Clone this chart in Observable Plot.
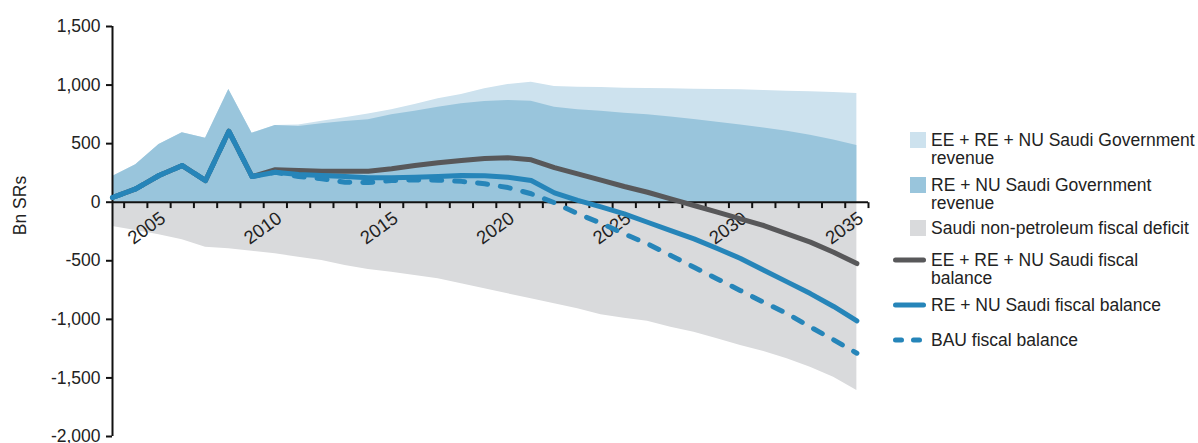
<!DOCTYPE html>
<html><head><meta charset="utf-8">
<script src="https://cdn.jsdelivr.net/npm/d3@7"></script>
<script src="https://cdn.jsdelivr.net/npm/@observablehq/plot@0.6"></script>
<style>
body{margin:0;background:#fff;}
#wrap{position:relative;width:1198px;height:443px;font-family:"Liberation Sans",Arial,sans-serif;color:#222;}
.item{position:absolute;left:890px;font-size:17.5px;line-height:18px;white-space:pre;}
.item svg{position:absolute;left:0;top:0;overflow:visible}
.item span{position:absolute;left:41px;top:0;}
</style></head><body><div id="wrap"></div>
<script>
const years = [2003,2004,2005,2006,2007,2008,2009,2010,2011,2012,2013,2014,2015,2016,2017,2018,2019,2020,2021,2022,2023,2024,2025,2026,2027,2028,2029,2030,2031,2032,2033,2034,2035];
const eeRevenue = [219,319,492,592,547,962,589,655,660,692,720,752,789,834,883,919,968,1005,1024,988,982,979,973,971,968,965,962,960,954,948,942,937,928];
const reRevenue = [219,319,492,592,547,962,589,655,646,669,689,703,746,777,811,840,860,868,862,811,789,777,760,746,728,706,682,660,634,606,572,532,484];
const nonPetroDeficit = [-207,-242,-278,-321,-384,-398,-418,-441,-469,-498,-540,-575,-597,-626,-654,-697,-739,-782,-825,-867,-910,-960,-990,-1016,-1067,-1110,-1166,-1223,-1275,-1337,-1409,-1494,-1607];
const eeBalance = [40,114,228,313,185,606,219,277,271,265,265,265,285,313,336,356,373,379,362,296,242,188,134,85,29,-28,-85,-142,-199,-270,-341,-427,-524];
const reBalance = [40,114,228,313,185,606,219,256,236,228,219,208,208,213,219,228,225,213,185,80,15,-40,-99,-171,-242,-313,-395,-480,-580,-680,-780,-890,-1013];
const bauBalance = [40,114,228,313,185,606,219,256,219,200,171,168,185,191,188,178,157,125,72,-5,-98,-179,-270,-355,-455,-555,-655,-755,-855,-950,-1065,-1175,-1289];
const yTicks = [-2000,-1500,-1000,-500,0,500,1000,1500];
const xLabelYears = [2005,2010,2015,2020,2025,2030,2035];
const yLabel = "Bn SRs";
const legendItems = [
  {label:"EE + RE + NU Saudi Government\nrevenue", type:"box", color:"#cde2ee"},
  {label:"RE + NU Saudi Government\nrevenue", type:"box", color:"#99c5dc"},
  {label:"Saudi non-petroleum fiscal deficit", type:"box", color:"#d9dadc"},
  {label:"EE + RE + NU Saudi fiscal\nbalance", type:"line", color:"#58585a"},
  {label:"RE + NU Saudi fiscal balance", type:"line", color:"#2685b9"},
  {label:"BAU fiscal balance", type:"dash", color:"#2685b9"}
];

const C = {light:"#cde2ee", mid:"#99c5dc", gray:"#d9dadc", dark:"#58585a", blue:"#2685b9", axis:"#111"};
const rows = years.map((year,i)=>({year, ee:eeRevenue[i], re:reRevenue[i], deficit:nonPetroDeficit[i], eeBal:eeBalance[i], reBal:reBalance[i], bau:bauBalance[i]}));
const tickRows = years.map(y => ({pos: y + 0.5, top: 0, bottom: -50}));
const loc = d3.formatLocale({decimal:".", thousands:",", grouping:[3], currency:["",""], minus:"-"});
const fmt = loc.format(",");

const chart = Plot.plot({
  width:1198, height:443,
  marginLeft:112, marginRight:330, marginTop:26, marginBottom:7,
  style:{fontFamily:'"Liberation Sans",Arial,sans-serif', fontSize:"17.5px", color:"#222", background:"transparent", overflow:"visible"},
  x:{domain:[2003, 2035.5], axis:null},
  y:{domain:[-2000,1500]},
  marks:[
    Plot.areaY(rows, {x:"year", y1:0, y2:"deficit", fill:C.gray}),
    Plot.areaY(rows, {x:"year", y1:0, y2:"ee", fill:C.light}),
    Plot.areaY(rows, {x:"year", y1:0, y2:"re", fill:C.mid}),
    Plot.ruleY([0], {stroke:C.axis, strokeWidth:2}),
    Plot.ruleX([years[0]], {stroke:C.axis, strokeWidth:2}),
    Plot.link(tickRows, {x1:"pos", x2:"pos", y1:"top", y2:"bottom", stroke:C.axis, strokeWidth:2}),
    Plot.axisY({ticks:yTicks, tickFormat:fmt, tickSize:6, tickPadding:6, fontSize:17.5, label:null, strokeWidth:2, stroke:C.axis}),
    Plot.text(xLabelYears, {x:d=>d, y:()=>0, text:d=>String(d), rotate:-36, textAnchor:"end", lineAnchor:"top", dx:0, dy:8, fontSize:18.5, fill:"#222"}),
    Plot.text([yLabel], {frameAnchor:"left", text:d=>d, rotate:-90, textAnchor:"middle", lineAnchor:"middle", dx:-92, dy:-26, fontSize:17.5, fill:"#222"}),
    Plot.lineY(rows, {x:"year", y:"eeBal", stroke:C.dark, strokeWidth:5, strokeLinecap:"round", strokeLinejoin:"round"}),
    Plot.lineY(rows, {x:"year", y:"bau", stroke:C.blue, strokeWidth:5, strokeDasharray:"10,13", strokeLinecap:"round", strokeLinejoin:"round"}),
    Plot.lineY(rows, {x:"year", y:"reBal", stroke:C.blue, strokeWidth:5, strokeLinecap:"round", strokeLinejoin:"round"})
  ]
});
const wrap = document.getElementById("wrap");
wrap.appendChild(chart);

const tops = [131, 176, 219, 251, 296, 331];
legendItems.forEach((it, i) => {
  const d = document.createElement("div");
  d.className = "item";
  d.style.top = tops[i] + "px";
  let sw = "";
  if (it.type === "box") sw = `<svg width="40" height="18"><rect x="20" y="1" width="16" height="16" fill="${it.color}"/></svg>`;
  else if (it.type === "line") sw = `<svg width="40" height="18"><line x1="5.5" x2="33.5" y1="9" y2="9" stroke="${it.color}" stroke-width="5" stroke-linecap="round"/></svg>`;
  else sw = `<svg width="40" height="18"><line x1="5.5" x2="33.5" y1="9" y2="9" stroke="${it.color}" stroke-width="5" stroke-linecap="round" stroke-dasharray="6,12"/></svg>`;
  d.innerHTML = sw + `<span></span>`;
  d.querySelector("span").textContent = it.label;
  wrap.appendChild(d);
});
</script>
</body></html>
